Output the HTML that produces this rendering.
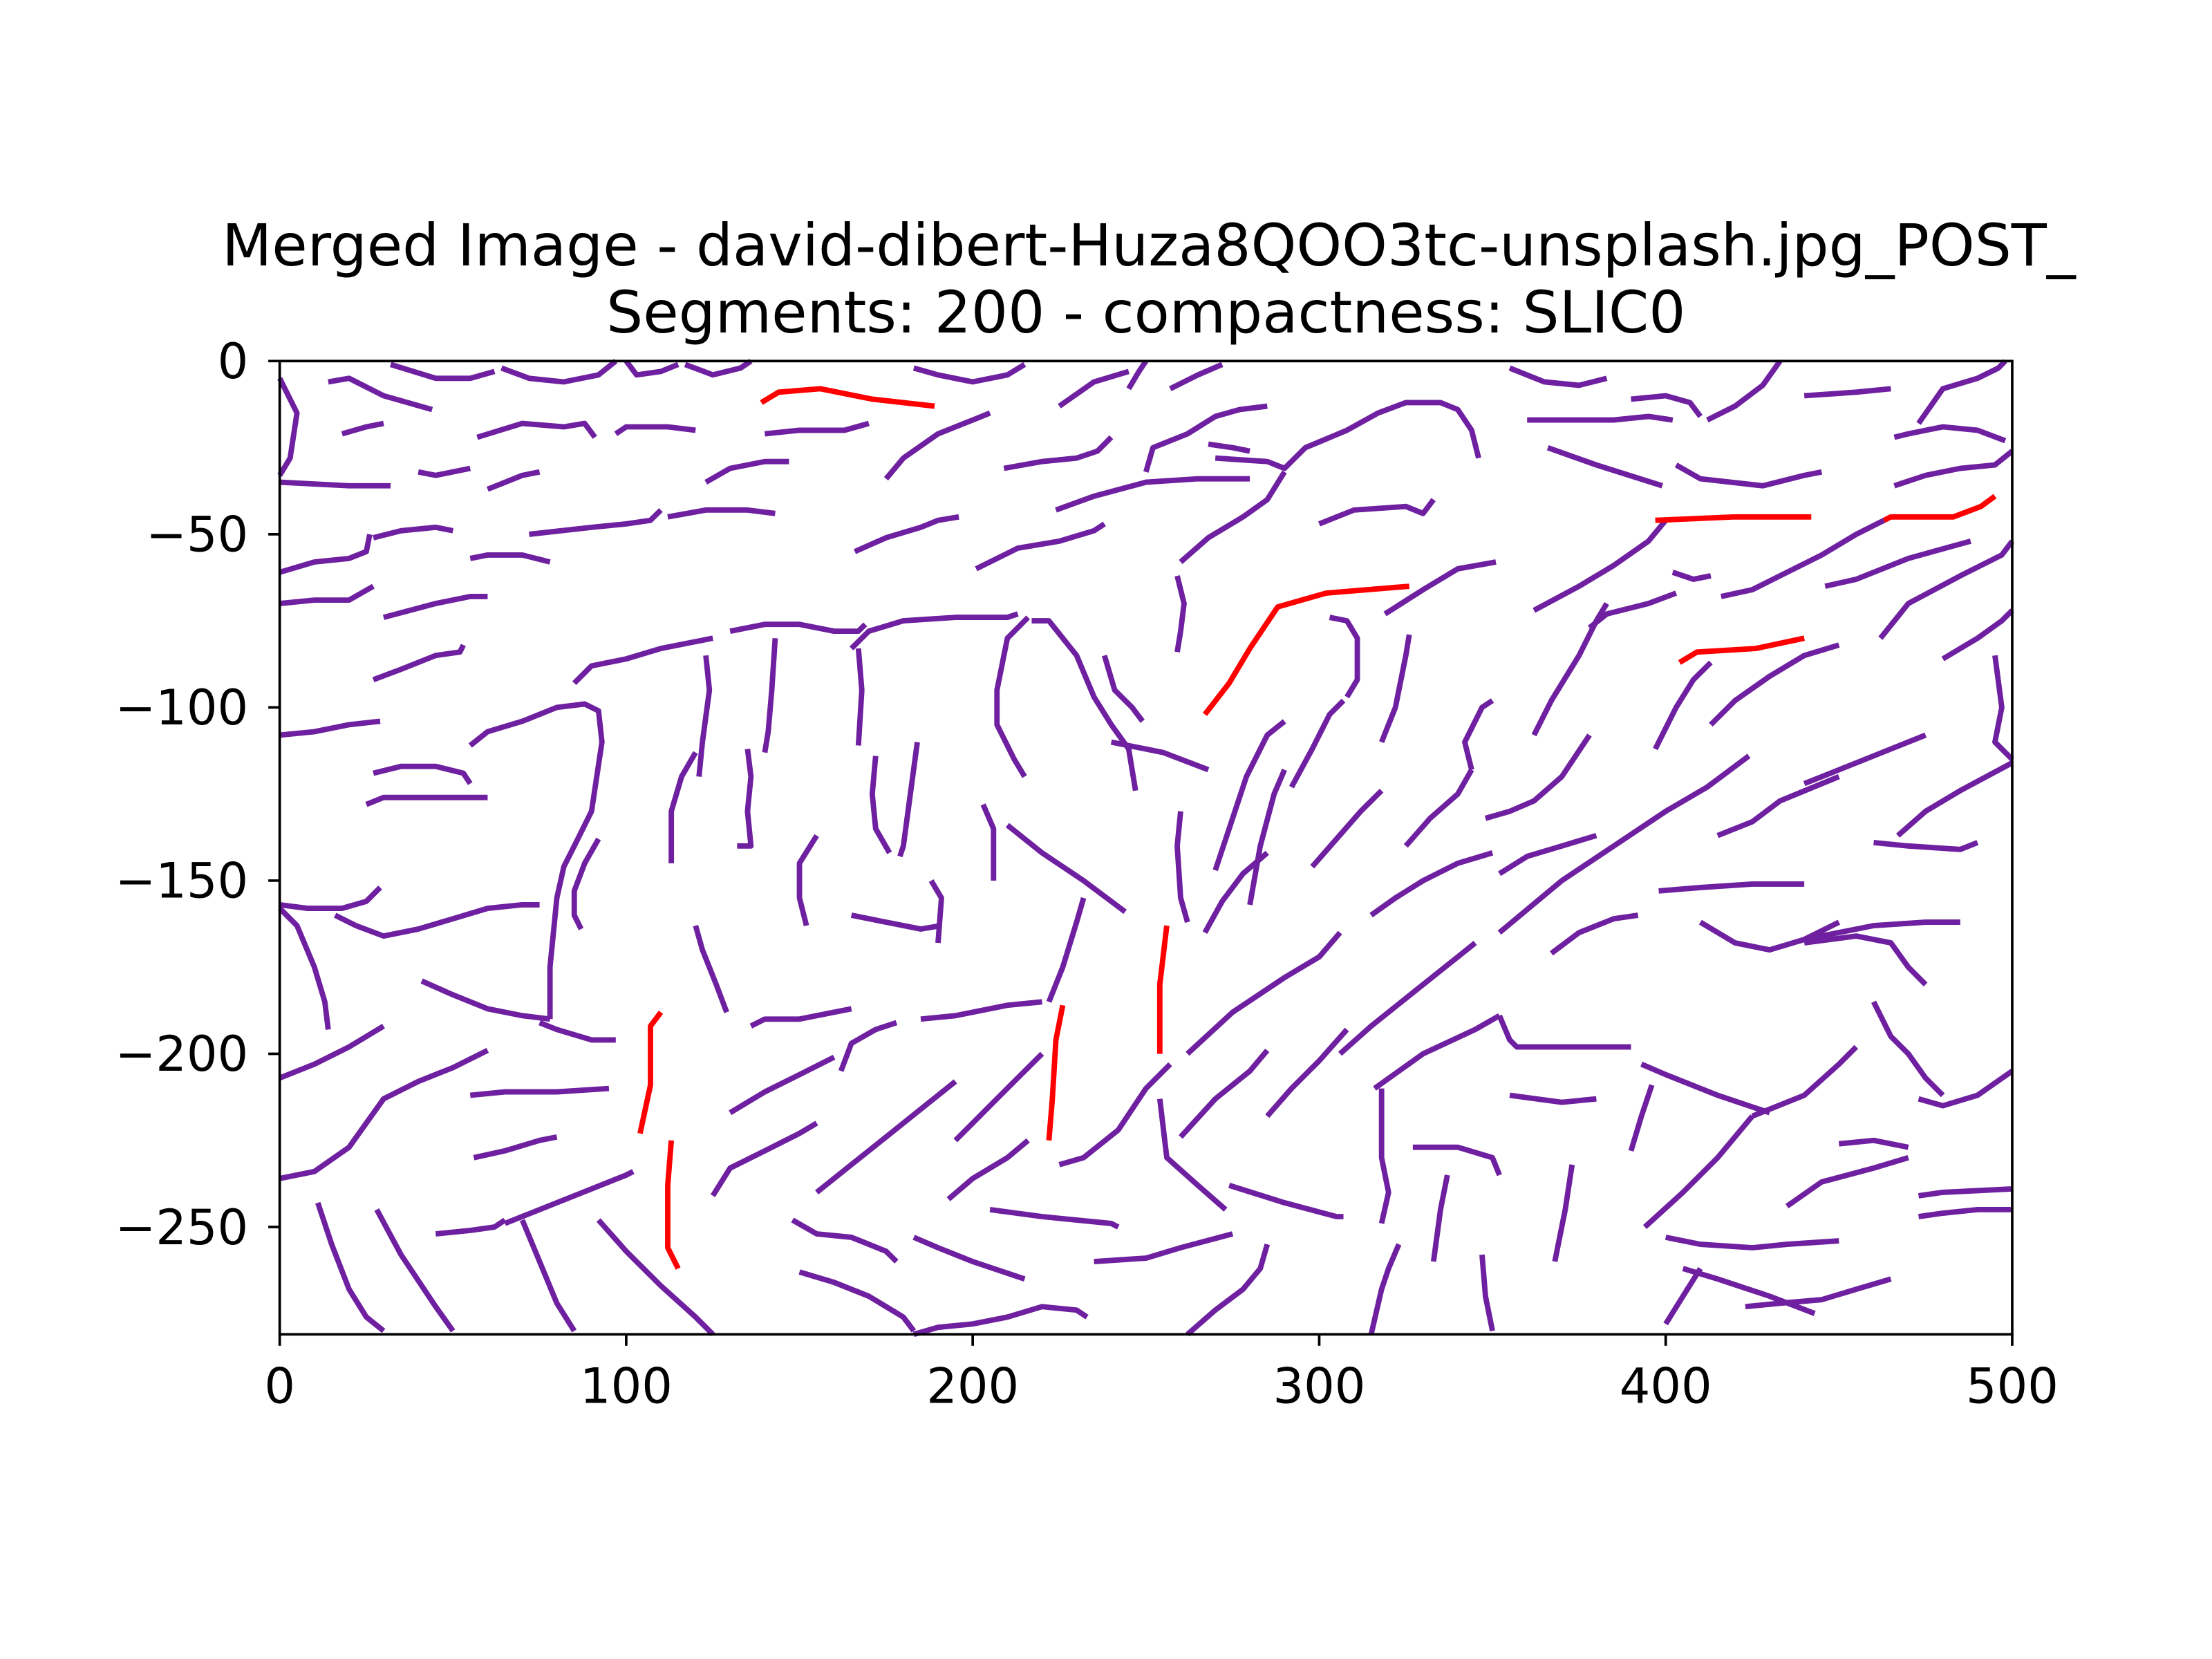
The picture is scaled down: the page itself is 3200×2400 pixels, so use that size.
<!DOCTYPE html>
<html><head><meta charset="utf-8"><style>
html,body{margin:0;padding:0;background:#fff}
svg{display:block}
text{font-family:"DejaVu Sans","Liberation Sans",sans-serif;fill:#000}
</style></head><body>
<svg id="chart" width="3200" height="2400" viewBox="0 0 1550 1162.5" xmlns="http://www.w3.org/2000/svg">
<rect width="1550" height="1162.5" fill="#fff"/>
<text x="805" y="186" font-size="40.5" text-anchor="middle">Merged Image - david-dibert-Huza8QOO3tc-unsplash.jpg_POST_</text>
<text x="803" y="233" font-size="40.5" text-anchor="middle">Segments: 200 - compactness: SLIC0</text>
<g id="marks"></g>
<rect x="196" y="253" width="1214" height="682" fill="none" stroke="#000" stroke-width="1.8"/>
<g id="axes"></g>
</svg>
<script>
const xTicks = [0,100,200,300,400,500];
const yTicks = [0,-50,-100,-150,-200,-250];
const redSegments = [
 [[139,-12],[144,-9],[156,-8],[171,-11],[189,-13]],
 [[267,-102],[274,-93],[280,-83],[288,-71],[302,-67],[326,-65]],
 [[397,-46],[420,-45],[442,-45]],
 [[463,-46],[465,-45],[483,-45],[491,-42],[495,-39]],
 [[404,-87],[409,-84],[426,-83],[440,-80]],
 [[110,-188],[107,-192],[107,-209],[104,-223]],
 [[113,-225],[112,-238],[112,-256],[115,-262]],
 [[226,-186],[224,-196],[223,-213],[222,-225]],
 [[256,-163],[254,-180],[254,-200]]
];
const purpleSegments = [
 [[0,-5],[5,-15],[3,-28],[0,-33]],
 [[14,-6],[20,-5],[30,-10],[44,-14]],
 [[32,-1],[45,-5],[55,-5],[62,-3]],
 [[64,-2],[72,-5],[82,-6],[92,-4],[97,0]],
 [[100,0],[103,-4],[110,-3],[115,-1]],
 [[117,-1],[125,-4],[133,-2],[136,0]],
 [[183,-2],[190,-4],[200,-6],[210,-4],[215,-1]],
 [[225,-13],[235,-6],[245,-3]],
 [[245,-8],[248,-3],[250,0]],
 [[257,-8],[265,-4],[272,-1]],
 [[355,-2],[365,-6],[375,-7],[383,-5]],
 [[390,-11],[400,-10],[407,-12],[410,-16]],
 [[412,-17],[420,-13],[428,-7],[433,0]],
 [[440,-10],[455,-9],[465,-8]],
 [[473,-18],[480,-8],[490,-5],[496,-2],[498,0]],
 [[0,-35],[20,-36],[32,-36]],
 [[18,-21],[25,-19],[30,-18]],
 [[57,-22],[70,-18],[82,-19],[88,-18],[91,-22]],
 [[97,-21],[100,-19],[112,-19],[120,-20]],
 [[140,-21],[150,-20],[163,-20],[170,-18]],
 [[123,-35],[130,-31],[140,-29],[147,-29]],
 [[60,-37],[70,-33],[75,-32]],
 [[40,-32],[45,-33],[55,-31]],
 [[175,-34],[180,-28],[190,-21],[200,-17],[205,-15]],
 [[209,-31],[220,-29],[230,-28],[236,-26],[240,-22]],
 [[250,-32],[252,-25],[262,-21],[270,-16],[277,-14],[285,-13]],
 [[268,-24],[275,-25],[280,-26]],
 [[270,-28],[285,-29],[290,-31],[296,-25],[308,-20],[317,-15],[325,-12],[335,-12],[340,-14],[344,-20],[346,-28]],
 [[360,-17],[370,-17],[385,-17],[395,-16],[402,-17]],
 [[366,-25],[380,-30],[399,-36]],
 [[403,-30],[410,-34],[428,-36],[440,-33],[445,-32]],
 [[466,-22],[470,-21],[480,-19],[490,-20],[498,-23]],
 [[466,-36],[475,-33],[485,-31],[495,-30],[500,-26]],
 [[0,-61],[10,-58],[20,-57],[25,-55],[26,-50]],
 [[27,-51],[35,-49],[45,-48],[50,-49]],
 [[0,-70],[10,-69],[20,-69],[27,-65]],
 [[30,-74],[45,-70],[55,-68],[60,-68]],
 [[55,-57],[60,-56],[70,-56],[78,-58]],
 [[72,-50],[90,-48],[100,-47],[107,-46],[110,-43]],
 [[112,-45],[123,-43],[135,-43],[143,-44]],
 [[166,-55],[175,-51],[185,-48],[190,-46],[196,-45]],
 [[201,-60],[213,-54],[225,-52],[235,-49],[238,-47]],
 [[224,-43],[235,-39],[250,-35],[265,-34],[280,-34]],
 [[260,-58],[268,-51],[278,-45],[285,-40],[290,-32]],
 [[300,-47],[310,-43],[325,-42],[330,-44],[333,-40]],
 [[319,-73],[330,-66],[340,-60],[351,-58]],
 [[362,-72],[375,-65],[385,-59],[395,-52],[400,-46]],
 [[378,-77],[383,-73],[395,-70],[403,-67]],
 [[402,-61],[408,-63],[413,-62]],
 [[416,-68],[425,-66],[433,-62],[445,-56],[455,-50],[463,-46]],
 [[446,-65],[455,-63],[470,-57],[488,-52]],
 [[462,-80],[470,-70],[485,-62],[497,-56],[500,-52]],
 [[480,-86],[490,-80],[497,-75],[500,-72]],
 [[27,-92],[35,-89],[45,-85],[52,-84],[53,-82]],
 [[85,-93],[90,-88],[100,-86],[110,-83],[120,-81],[125,-80]],
 [[130,-78],[140,-76],[150,-76],[160,-78],[167,-78],[169,-76]],
 [[165,-83],[170,-78],[180,-75],[195,-74],[210,-74],[213,-73]],
 [[0,-108],[10,-107],[20,-105],[29,-104]],
 [[55,-111],[60,-107],[70,-104],[80,-100],[88,-99],[92,-101],[93,-110],[90,-130],[85,-140],[82,-146],[80,-155],[78,-175],[78,-190]],
 [[87,-164],[85,-160],[85,-153],[88,-145],[92,-138]],
 [[123,-85],[124,-95],[122,-110],[121,-120]],
 [[143,-80],[142,-95],[141,-107],[140,-113]],
 [[167,-83],[168,-95],[167,-111]],
 [[216,-74],[210,-80],[207,-95],[207,-105],[212,-115],[215,-120]],
 [[217,-75],[222,-75],[230,-85],[235,-97],[240,-105],[245,-112],[247,-124]],
 [[238,-85],[241,-95],[246,-100],[249,-104]],
 [[259,-84],[260,-78],[261,-70],[259,-62]],
 [[240,-110],[255,-113],[268,-118]],
 [[270,-147],[274,-135],[279,-120],[285,-108],[290,-104]],
 [[280,-157],[283,-140],[287,-125],[290,-118]],
 [[292,-123],[298,-112],[303,-102],[307,-98]],
 [[303,-74],[308,-75],[311,-80],[311,-92],[308,-97]],
 [[326,-79],[325,-85],[322,-100],[318,-110]],
 [[344,-118],[342,-110],[347,-100],[350,-98]],
 [[362,-108],[367,-98],[375,-85],[380,-75],[383,-70]],
 [[397,-112],[403,-100],[408,-92],[413,-87]],
 [[413,-105],[420,-98],[430,-91],[440,-85],[450,-82]],
 [[495,-85],[497,-100],[495,-110],[500,-115]],
 [[27,-119],[35,-117],[45,-117],[53,-119],[55,-122]],
 [[25,-128],[30,-126],[45,-126],[60,-126]],
 [[0,-157],[8,-158],[18,-158],[25,-156],[29,-152]],
 [[0,-158],[5,-163],[10,-175],[13,-185],[14,-193]],
 [[16,-160],[22,-163],[30,-166],[40,-164],[50,-161],[60,-158],[70,-157],[75,-157]],
 [[120,-113],[116,-120],[113,-130],[113,-145]],
 [[135,-112],[136,-120],[135,-130],[136,-140],[132,-140]],
 [[155,-137],[150,-145],[150,-155],[152,-163]],
 [[172,-114],[171,-125],[172,-135],[176,-142]],
 [[184,-110],[182,-125],[180,-140],[179,-143]],
 [[203,-128],[206,-135],[206,-150]],
 [[210,-134],[220,-142],[232,-150],[244,-159]],
 [[260,-130],[259,-140],[260,-155],[262,-162]],
 [[267,-165],[272,-156],[278,-148],[285,-142]],
 [[298,-146],[305,-138],[312,-130],[318,-124]],
 [[315,-160],[322,-155],[330,-150],[340,-145],[350,-142]],
 [[325,-140],[332,-132],[340,-125],[344,-118]],
 [[348,-132],[355,-130],[362,-127],[370,-120],[378,-108]],
 [[352,-148],[360,-143],[370,-140],[380,-137]],
 [[352,-165],[370,-150],[385,-140],[400,-130],[412,-123],[424,-114]],
 [[415,-137],[425,-133],[433,-127],[450,-120]],
 [[440,-122],[450,-118],[465,-112],[475,-108]],
 [[467,-137],[475,-130],[485,-124],[500,-116]],
 [[460,-139],[470,-140],[485,-141],[490,-139]],
 [[398,-153],[410,-152],[425,-151],[440,-151]],
 [[410,-162],[420,-168],[430,-170],[440,-167],[450,-162]],
 [[440,-167],[460,-163],[475,-162],[485,-162]],
 [[367,-171],[375,-165],[385,-161],[392,-160]],
 [[306,-200],[315,-192],[330,-180],[340,-172],[345,-168]],
 [[262,-200],[275,-188],[290,-178],[300,-172],[306,-165]],
 [[41,-179],[50,-183],[60,-187],[70,-189],[78,-190]],
 [[75,-191],[80,-193],[90,-196],[97,-196]],
 [[0,-207],[10,-203],[20,-198],[30,-192]],
 [[0,-236],[10,-234],[20,-227],[30,-213],[40,-208],[50,-204],[60,-199]],
 [[120,-163],[122,-170],[126,-180],[129,-188]],
 [[136,-192],[140,-190],[150,-190],[165,-187]],
 [[165,-160],[175,-162],[185,-164],[191,-163]],
 [[190,-168],[191,-155],[188,-150]],
 [[162,-205],[165,-197],[172,-193],[178,-191]],
 [[185,-190],[195,-189],[210,-186],[220,-185]],
 [[222,-185],[226,-175],[230,-162],[232,-155]],
 [[130,-217],[140,-211],[150,-206],[160,-201]],
 [[125,-241],[130,-233],[140,-228],[150,-223],[155,-220]],
 [[155,-240],[165,-232],[175,-224],[185,-216],[195,-208]],
 [[195,-225],[205,-215],[212,-208],[220,-200]],
 [[193,-242],[200,-236],[210,-230],[216,-225]],
 [[225,-232],[232,-230],[242,-222],[250,-210],[257,-203]],
 [[254,-213],[256,-230],[265,-238],[273,-245]],
 [[260,-224],[270,-213],[280,-205],[285,-199]],
 [[285,-218],[292,-210],[300,-202],[308,-193]],
 [[274,-238],[290,-243],[305,-247],[307,-247]],
 [[318,-210],[318,-230],[320,-240],[318,-249]],
 [[316,-210],[330,-200],[345,-193],[352,-189]],
 [[352,-189],[355,-196],[357,-198],[375,-198],[390,-198]],
 [[355,-212],[370,-214],[380,-213]],
 [[393,-203],[400,-206],[415,-212],[430,-217]],
 [[425,-218],[440,-212],[450,-203],[455,-198]],
 [[396,-209],[393,-218],[390,-228]],
 [[394,-250],[405,-240],[415,-230],[425,-218]],
 [[435,-244],[445,-237],[460,-233],[470,-230]],
 [[450,-226],[460,-225],[470,-227]],
 [[460,-185],[465,-195],[470,-200],[475,-207],[480,-212]],
 [[440,-168],[455,-166],[465,-168],[470,-175],[475,-180]],
 [[473,-213],[480,-215],[490,-212],[500,-205]],
 [[473,-247],[480,-246],[490,-245],[500,-245]],
 [[473,-241],[480,-240],[500,-239]],
 [[400,-253],[410,-255],[425,-256],[435,-255],[450,-254]],
 [[405,-262],[415,-265],[430,-270],[443,-275]],
 [[423,-273],[433,-272],[445,-271],[455,-268],[465,-265]],
 [[400,-278],[405,-270],[410,-262]],
 [[11,-243],[15,-255],[20,-268],[25,-276],[30,-280]],
 [[28,-245],[35,-258],[45,-273],[50,-280]],
 [[45,-252],[55,-251],[62,-250],[65,-248]],
 [[65,-249],[75,-245],[85,-241],[100,-235],[102,-234]],
 [[70,-248],[75,-260],[80,-272],[85,-280]],
 [[92,-248],[100,-257],[110,-267],[120,-276],[125,-281]],
 [[148,-248],[155,-252],[165,-253],[175,-257],[178,-260]],
 [[150,-263],[160,-266],[170,-270],[180,-276],[183,-280]],
 [[183,-253],[190,-256],[200,-260],[215,-265]],
 [[205,-245],[220,-247],[240,-249],[242,-250]],
 [[235,-260],[250,-259],[260,-256],[275,-252]],
 [[183,-281],[190,-279],[200,-278],[210,-276],[220,-273],[230,-274],[233,-276]],
 [[262,-281],[270,-274],[278,-268],[283,-262],[285,-255]],
 [[315,-281],[318,-268],[320,-262],[323,-255]],
 [[327,-227],[340,-227],[350,-230],[352,-235]],
 [[337,-235],[335,-245],[333,-260]],
 [[347,-258],[348,-270],[350,-280]],
 [[373,-232],[371,-245],[368,-260]],
 [[55,-212],[65,-211],[80,-211],[95,-210]],
 [[56,-230],[65,-228],[75,-225],[80,-224]]
];
const X0=196, X1=1410, Y0=253, Y1=935;
const xMin=0, xMax=500, yMin=-281, yMax=0;
function sx(v){return X0+(v-xMin)/(xMax-xMin)*(X1-X0);}
function sy(v){return Y0+(yMax-v)/(yMax-yMin)*(Y1-Y0);}
const NS="http://www.w3.org/2000/svg";
const marks=document.getElementById('marks');
function drawSeg(seg,color,name){
  const p=document.createElementNS(NS,'polyline');
  p.setAttribute('points',seg.map(q=>sx(q[0]).toFixed(1)+','+sy(q[1]).toFixed(1)).join(' '));
  p.setAttribute('fill','none');
  p.setAttribute('stroke',color);
  p.setAttribute('stroke-width','3.8');
  p.setAttribute('stroke-linejoin','round');
  
  
  marks.appendChild(p);
}
purpleSegments.forEach(s=>drawSeg(s,'#6e20a0','boundary-segment'));
redSegments.forEach(s=>drawSeg(s,'#ff0000','highlighted-segment'));
const axes=document.getElementById('axes');
xTicks.forEach(t=>{
  const l=document.createElementNS(NS,'line');
  l.setAttribute('x1',sx(t));l.setAttribute('x2',sx(t));
  l.setAttribute('y1',Y1);l.setAttribute('y2',Y1+8);
  l.setAttribute('stroke','#000');l.setAttribute('stroke-width','1.8');
  
  
  axes.appendChild(l);
  const tx=document.createElementNS(NS,'text');
  tx.setAttribute('x',sx(t));tx.setAttribute('y',Y1+48);
  tx.setAttribute('font-size','34');tx.setAttribute('text-anchor','middle');
  tx.textContent=String(t);
  
  
  axes.appendChild(tx);
});
yTicks.forEach(t=>{
  const l=document.createElementNS(NS,'line');
  l.setAttribute('x1',X0-8);l.setAttribute('x2',X0);
  l.setAttribute('y1',sy(t));l.setAttribute('y2',sy(t));
  l.setAttribute('stroke','#000');l.setAttribute('stroke-width','1.8');
  
  
  axes.appendChild(l);
  const tx=document.createElementNS(NS,'text');
  tx.setAttribute('x',X0-22);tx.setAttribute('y',sy(t)+12);
  tx.setAttribute('font-size','34');tx.setAttribute('text-anchor','end');
  tx.textContent=t<0?'\u2212'+Math.abs(t):String(t);
  
  
  axes.appendChild(tx);
});
</script>
</body></html>
